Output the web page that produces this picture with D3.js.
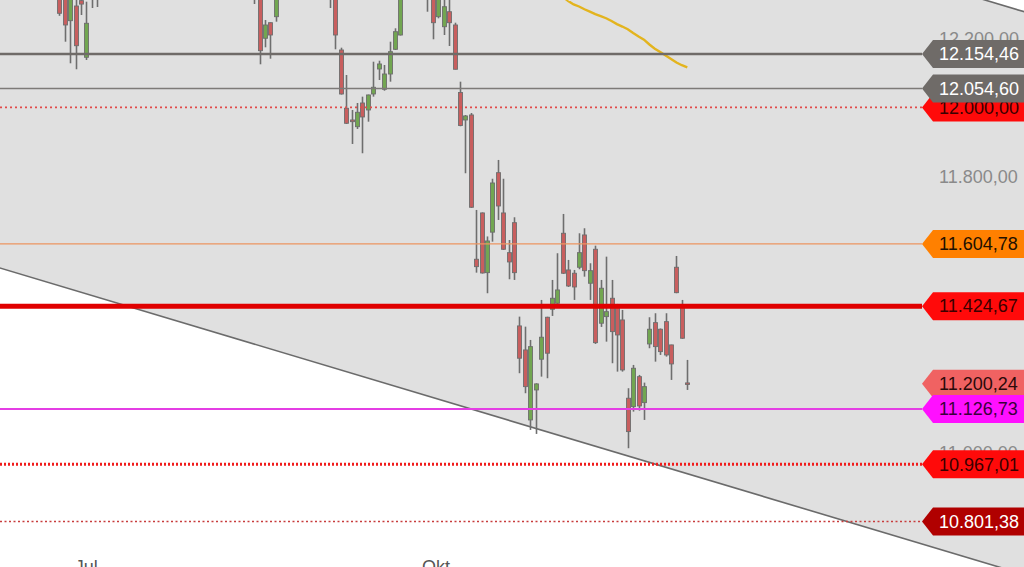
<!DOCTYPE html>
<html><head><meta charset="utf-8">
<script src="https://cdn.jsdelivr.net/npm/d3@7"></script>
<style>html,body{margin:0;padding:0;background:#fff;overflow:hidden}svg{display:block}text{font-family:"Liberation Sans",Arial,sans-serif}</style>
</head><body><svg id="c" width="1024" height="567"></svg>
<script>
// ---- data ----
const dayIndex = [0,1,2,3,4,5,6,7,36,37,38,39,40,50,51,52,53,54,55,56,57,58,59,60,61,62,63,68,69,70,71,72,73,74,75,76,77,78,79,80,81,82,83,84,85,86,87,88,89,90,91,92,93,94,95,96,97,98,99,100,101,102,103,104,105,106,107,108,109,110,111,112,113,114,115,116];
const openV  = [12360,12330,12250.9,12293.4,12309,12145.0,12320,12330,12345,12330,12200.0,12245.1,12262.5,12340,12325,12166.1,11997.4,11963.5,11944.1,12012.7,11992.5,12038.8,12111.1,12052.4,12096.6,12168.1,12209.5,12360,12320,12262.5,12233.5,12276.9,12238.5,12043.1,11963.5,11978.0,11560.4,11694.4,11521.6,11638.8,11811.0,11694.4,11579.5,11666.3,11367.4,11297.9,11095.3,11182.1,11271.0,11392.5,11415.7,11433.0,11635.6,11529.4,11519.9,11537.2,11630.7,11490.9,11589.3,11375.2,11394.3,11447.5,11428.1,11384.7,11158.1,11133.8,11220.6,11145.4,11315.3,11376.9,11357.8,11379.8,11312.4,11537.2,11425.2,11202.4];
const highV  = [12400,12360,12345,12315,12330,12305.9,12360,12370,12370,12345,12252.9,12246,12340,12360,12340,12172.8,12093.8,11992.5,12012.7,12031.0,12037,12132.2,12135.1,12122.7,12190.1,12228.9,12340,12380,12345,12330,12312,12318,12245.1,12074.4,11978.0,11983.8,11703.1,11696,11626.4,11793.4,11847.8,11793.4,11616.2,11681.9,11394.3,11365.3,11326.8,11201.5,11442.6,11394,11500.5,11577.8,11691.5,11558.4,11529.4,11635.6,11650.1,11548.8,11599.7,11500.5,11567.9,11500.5,11431.0,11413.7,11187.1,11254.5,11225.6,11203.3,11392.5,11404.1,11360,11404.1,11313,11569.9,11442.6,11269.0];
const lowV   = [12265,12190.1,12127.6,12110.3,12267.4,12137.2,12287.6,12290.5,12299.2,12124.7,12173.9,12140.9,12248.0,12287.6,12168.1,12037,11951.9,11894.1,11937.5,11867.2,11958.6,12031.0,12079.3,12048.3,12074.4,12166.1,12208,12276.9,12197.1,12257.8,12209.5,12177.7,12110,11945.3,11809.3,11708.8,11521.6,11519,11462.0,11611.3,11674.1,11587.3,11502.5,11500.5,11230.5,11172.6,11066.4,11054.8,11220.6,11216.0,11396.3,11431.0,11517.8,11480.2,11442.6,11531.4,11510.0,11442.6,11315.3,11364.5,11321.9,11259.4,11235.1,11235.1,11013.4,11119.3,11122.2,11095.3,11302.8,11264.0,11283.4,11278.5,11211.1,11462.0,11330,11182.1];
const closeV = [12272.3,12238.5,12330,12178.5,12299,12243.4,12340,12345,12320,12164.1,12238.5,12209.5,12325,12320,12209.5,12038.8,11954.0,11958.6,11985.8,11972.2,12035.9,12058.2,12125.6,12096.6,12161.2,12219.1,12320,12330,12245.1,12315,12291.4,12245.1,12110.3,11947.6,11975.1,11710.9,11539.0,11520.7,11613.3,11781.2,11714.6,11589.3,11552.6,11521.6,11273.9,11191.7,11307.5,11199.5,11334.7,11288.4,11447.5,11471.5,11519.9,11483.1,11480.2,11579.5,11527.4,11527.4,11319.0,11476.5,11408.7,11350.9,11341.3,11240.0,11061.5,11244.9,11135.8,11191.7,11357.8,11307.5,11293.0,11283.4,11257.4,11463.7,11331.8,11200.24];

// moving average (yellow)
const maIndex = [93,94,95,96,97,98,99,100,101,102,103,104,105,106,107,108,109,110,111,112,113,114,115,116];
const maValue = [12320,12308,12298,12292,12284,12277,12270,12264,12258,12250,12241,12234,12226,12215,12205,12196,12182,12170,12160,12150,12140,12130,12122,12116];

// price levels (horizontal lines with labels)
const levelValues = [12000.00,12154.46,12054.60,11604.78,11424.67,11200.24,11126.73,10967.01,10801.38];

// trend channel (lower line points, upper line parallel)
const channelLowerIdx = [-12,180];
const channelLowerVal = [11540.0,10639.4];
const channelUpperIdx = [-12,180];
const channelUpperVal = [13169.1,12268.5];

// axis tick labels that show in the picture
const yTicks = [11000,11800,12200];
const monthLabels = ["Jul","Okt"];
const monthIdx = [5.0,69.6];

// ---- drawing ----
const W=1024,H=567;
const svg=d3.select("#c");
const x=d3.scaleLinear().domain([0,116]).range([59.3,687.3]);
const y=d3.scaleLinear().domain([10669.6,12310.8]).range([567,0]);
const de=d3.formatLocale({decimal:",",thousands:".",grouping:[3],currency:["","€"]});
const fmt=de.format(",.2f");

svg.append("rect").attr("width",W).attr("height",H).attr("fill","#fff");

// channel fill
const lowPts=channelLowerIdx.map((d,i)=>[x(d),y(channelLowerVal[i])]);
const upPts=channelUpperIdx.map((d,i)=>[x(d),y(channelUpperVal[i])]);
svg.append("path").attr("d",d3.line()([...lowPts,...upPts.slice().reverse()])+"Z").attr("fill","#e0e0e0");
[lowPts,upPts].forEach(p=>svg.append("path").attr("d",d3.line()(p)).attr("stroke","#6b6b6b").attr("stroke-width",1.6).attr("fill","none"));

// y tick labels
svg.append("g").selectAll("text").data(yTicks).join("text")
  .attr("x",939).attr("y",d=>y(d)).attr("dy","0.35em")
  .attr("font-size",18).attr("fill","#8a8a8a").text(d=>fmt(d));

// month labels
svg.append("g").selectAll("text").data(monthLabels).join("text")
  .attr("x",(d,i)=>x(monthIdx[i])).attr("y",573).attr("text-anchor","middle")
  .attr("font-size",18).attr("fill","#555").text(d=>d);

// candles
const cg=svg.append("g");
dayIndex.forEach((d,i)=>{
  const o=openV[i],c=closeV[i],h=highV[i],l=lowV[i];
  const cx=Math.round(x(d))+0.5;
  cg.append("line").attr("x1",cx).attr("x2",cx).attr("y1",y(h)).attr("y2",y(l))
    .attr("stroke","#6e6e6e").attr("stroke-width",1.6);
  const top=y(Math.max(o,c)),bot=y(Math.min(o,c));
  cg.append("rect").attr("x",cx-2).attr("width",4).attr("y",top).attr("height",Math.max(1.5,bot-top))
    .attr("fill",c>=o?"#72a651":"#c85e5e").attr("stroke","#6e6e6e").attr("stroke-width",0.9);
});

// moving average
svg.append("path").attr("d",d3.line().x((d,i)=>x(d)).y((d,i)=>y(maValue[i])).curve(d3.curveLinear)(maIndex))
  .attr("fill","none").attr("stroke","#e3b41e").attr("stroke-width",2.4);

// level styles (kept separate from data)
const lvlStyle=[
  {line:"#e24a4a",w:1.6,dash:"2,3",bg:"#ff0a0a",tc:"#3a0000"},
  {line:"#6f6b68",w:2.4,dash:null,bg:"#6f6b68",tc:"#ffffff"},
  {line:"#7d7a78",w:1.6,dash:null,bg:"#6f6b68",tc:"#ffffff"},
  {line:"#ec9560",w:1.2,dash:null,bg:"#ff8000",tc:"#221000"},
  {line:"#e00000",w:5,dash:null,bg:"#ff0a0a",tc:"#3a0000"},
  {line:null,w:0,dash:null,bg:"#f06262",tc:"#2a0a0a"},
  {line:"#e43ee4",w:2,dash:null,bg:"#ff10ff",tc:"#3a003a"},
  {line:"#f01c1c",w:3,dash:"2,2",bg:"#ff0a0a",tc:"#3a0000"},
  {line:"#c83c3c",w:1.6,dash:"2,2.5",bg:"#b00000",tc:"#ffffff"}
];
const lg=svg.append("g"), tg=svg.append("g");
levelValues.forEach((v,i)=>{
  const s=lvlStyle[i], yy=y(v);
  if(s.line){
    const ln=lg.append("line").attr("x1",0).attr("x2",922).attr("y1",yy).attr("y2",yy)
      .attr("stroke",s.line).attr("stroke-width",s.w);
    if(s.dash) ln.attr("stroke-dasharray",s.dash);
  }
  tg.append("path").attr("d",d3.line()([[922,yy],[933,yy-14],[1024,yy-14],[1024,yy+14],[933,yy+14]])+"Z")
    .attr("fill",s.bg);
  tg.append("text").attr("x",939).attr("y",yy).attr("dy","0.35em").attr("font-size",18)
    .attr("fill",s.tc).text(fmt(v));
});
</script></body></html>
